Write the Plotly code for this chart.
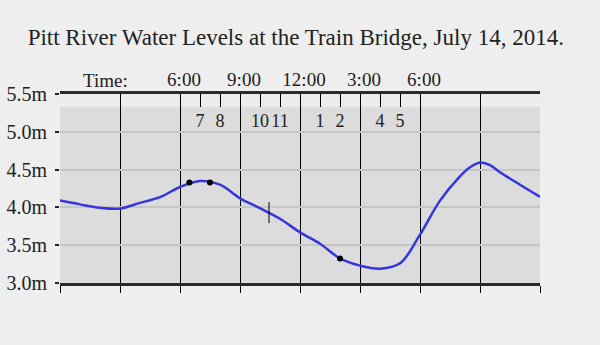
import plotly.graph_objects as go

# ---- data ----
hours = [0, 1, 2, 3, 4, 5, 6, 7, 8, 9, 10, 11, 12, 13, 14,
         15, 16, 17, 18, 19, 20, 20.5, 21, 21.5, 22, 23, 24]
levels = [4.09, 4.04, 3.995, 3.985, 4.06, 4.135, 4.27, 4.35, 4.30, 4.12, 3.99,
          3.85, 3.67, 3.52, 3.325, 3.23, 3.19, 3.26, 3.64, 4.09, 4.41, 4.53,
          4.595, 4.56, 4.465, 4.30, 4.14]

dot_hours = [6.47, 7.5, 14.0]
dot_levels = [4.33, 4.33, 3.325]

mark_hours = [10.45]
mark_levels = [3.93]

y_ticks = [3.0, 3.5, 4.0, 4.5, 5.0, 5.5]
y_labels = ["3.0m", "3.5m", "4.0m", "4.5m", "5.0m", "5.5m"]

grid_hours = [0, 3, 6, 9, 12, 15, 18, 21, 24]

time_hours = [6, 9, 12, 15, 18]
time_labels = ["6:00", "9:00", "12:00", "3:00", "6:00"]

hour_ticks = [7, 8, 10, 11, 13, 14, 16, 17]
hour_labels = ["7", "8", "10", "11", "1", "2", "4", "5"]
hour_label_level = 5.12

title_text = "Pitt River Water Levels at the Train Bridge, July 14, 2014."
time_word = "Time:"
time_word_hour = 2.25
band_top = 5.33

FONT = "Liberation Serif"
INK = "#222222"

fig = go.Figure()
fig.add_shape(type="rect", xref="paper", x0=0, x1=1, yref="y", y0=3.0, y1=band_top,
              fillcolor="#dcdcdc", line=dict(width=0), layer="below")

fig.add_trace(go.Scatter(x=hours, y=levels, mode="lines",
                         line=dict(color="#3535dc", width=2.5, shape="spline", smoothing=1),
                         hoverinfo="skip"))
fig.add_trace(go.Scatter(x=dot_hours, y=dot_levels, mode="markers",
                         marker=dict(color="black", size=6), hoverinfo="skip"))
fig.add_trace(go.Scatter(x=mark_hours, y=mark_levels, mode="markers",
                         marker=dict(symbol="line-ns", size=15,
                                     line=dict(color="black", width=1)),
                         hoverinfo="skip"))
fig.add_trace(go.Scatter(x=hour_ticks, y=[hour_label_level] * len(hour_ticks),
                         mode="text", text=hour_labels, textposition="middle center",
                         textfont=dict(family=FONT, size=18, color=INK),
                         hoverinfo="skip"))

fig.update_layout(
    width=600, height=345,
    margin=dict(l=60, r=60, t=94, b=62, autoexpand=False),
    paper_bgcolor="#eeeeee", plot_bgcolor="#ececec",
    showlegend=False,
    font=dict(family=FONT, color=INK, size=18),
    title=dict(text=title_text, x=0.493, xanchor="center", y=0.893, yanchor="middle",
               font=dict(family=FONT, size=23, color=INK)),
    xaxis=dict(range=[0, 24], tickvals=grid_hours, showticklabels=False,
               ticks="outside", ticklen=7, tickcolor="black", tickwidth=1,
               showgrid=True, gridcolor="black", gridwidth=1,
               showline=True, linecolor="#2a2a2a", linewidth=3, mirror=True,
               zeroline=False, automargin=False),
    xaxis2=dict(range=[0, 24], overlaying="x", side="top", anchor="y",
                tickvals=hour_ticks, showticklabels=False,
                ticks="inside", ticklen=13, tickcolor="black", tickwidth=1,
                showgrid=False, zeroline=False, showline=False, automargin=False),
    xaxis3=dict(range=[0, 24], overlaying="x", side="top", anchor="y",
                tickvals=time_hours, ticktext=time_labels,
                ticks="", ticklabelshift=4, ticklabelstandoff=3,
                showgrid=False, zeroline=False, showline=False, automargin=False,
                tickfont=dict(family=FONT, size=19, color=INK)),
    yaxis=dict(range=[3.0, 5.5], tickvals=y_ticks, ticktext=y_labels,
               ticks="outside", ticklen=4, tickcolor="#222222", tickwidth=2,
               ticklabelstandoff=4, automargin=False,
               showgrid=True, gridcolor="#c6c6c6", gridwidth=2,
               showline=False, zeroline=False,
               tickfont=dict(family=FONT, size=20, color=INK)),
)

# dummy traces to activate the top axes
fig.add_trace(go.Scatter(x=[None], y=[None], xaxis="x2", yaxis="y", showlegend=False))
fig.add_trace(go.Scatter(x=[None], y=[None], xaxis="x3", yaxis="y", showlegend=False))

fig.add_annotation(x=time_word_hour, xref="x", y=1.074, yref="paper",
                   text=time_word, showarrow=False, xanchor="center", yanchor="middle",
                   font=dict(family=FONT, size=19, color=INK))

fig.write_html("out.html")
